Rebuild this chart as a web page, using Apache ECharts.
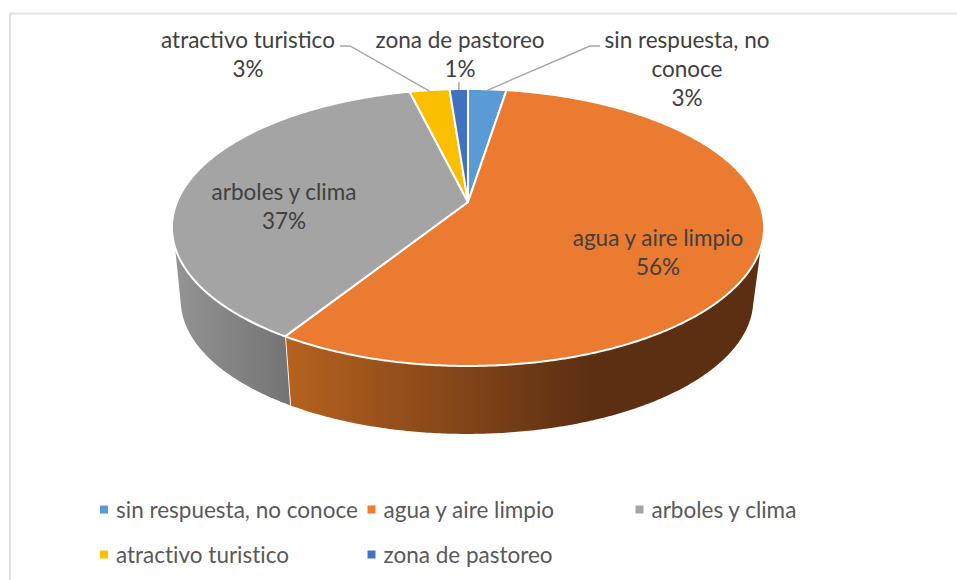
<!DOCTYPE html>
<html>
<head>
<meta charset="utf-8">
<style>html,body{margin:0;padding:0;background:#fff}#c{width:957px;height:580px}#c text{font-variant-ligatures:none}</style>
<script src="https://cdn.jsdelivr.net/npm/echarts@6/dist/echarts.min.js"></script>
</head>
<body>
<div id="c"></div>
<script>
// ---- data ----
const categories = ['sin respuesta, no conoce', 'agua y aire limpio', 'arboles y clima', 'atractivo turistico', 'zona de pastoreo'];
const values = [2.5, 56.4, 37.3, 2.6, 1.2];
const labelLines = [['sin respuesta, no', 'conoce'], ['agua y aire limpio'], ['arboles y clima'], ['atractivo turistico'], ['zona de pastoreo']];
const topColors = ['#5b9bd5', '#ea7b30', '#a4a4a4', '#fcbf00', '#4371c2'];
const legendColors = ['#5b9bd5', '#ed7d31', '#a5a5a5', '#ffc000', '#4472c4'];

// ---- layout (presentation only) ----
const apex = [468, 202], A = 291, B = 133.8, P = 0.184;
const depthShift = [-1, 72.5], depthScale = 0.967, ellipseCY = 228;
const VIS_START = 108.8, VIS_END = 251.2, LOW_START = 102.8, LOW_END = 257.2;
const FONT = 'Lato';
const FONT_SIZE = 22.5;
const labelPos = [[687, 39], [658, 237], [284, 191], [248, 39], [460, 39]];
const leaderElbow = [[[600, 46], [590, 46]], null, null, [[340, 46], [350, 46]], [[459, 82]]];
const sideGrad = {
  1: {x: 288, x2: 590, stops: ['#b5621f', '#5c2f13']},
  2: {x: 180, x2: 288, stops: ['#929292', '#747474']}
};

function rim(deg) {
  const t = deg * Math.PI / 180, X = Math.sin(t), Y = Math.cos(t), w = 1 + P * Y;
  return [apex[0] + A * X / w, apex[1] - B * Y / w];
}
function rimLow(deg) {
  const p = rim(deg);
  return [apex[0] + (p[0] - apex[0]) * depthScale + depthShift[0],
          ellipseCY + (p[1] - ellipseCY) * depthScale + depthShift[1]];
}
function arc(fn, a, b) {
  const n = Math.max(2, Math.ceil(Math.abs(b - a) * 2)), out = [];
  for (let i = 0; i <= n; i++) out.push(fn(a + (b - a) * i / n));
  return out;
}

const total = values.reduce((s, v) => s + v, 0);
let acc = 0;
const spans = values.map(v => { const a = acc / total * 360; acc += v; return [a, acc / total * 360]; });

function renderSlice(idx) {
  return function () {
    const [a, b] = spans[idx], children = [];
    const sa = Math.max(a, VIS_START), sb = Math.min(b, VIS_END);
    if (sb > sa) {
      const g = sideGrad[idx];
      const la = a <= VIS_START ? LOW_START : sa, lb = b >= VIS_END ? LOW_END : sb;
      const side = arc(rim, sa, sb).concat(arc(rimLow, lb, la));
      children.push({
        type: 'polygon', shape: {points: side},
        style: {
          fill: {type: 'linear', x: g.x, y: 0, x2: g.x2, y2: 0, global: true,
                 colorStops: [{offset: 0, color: g.stops[0]}, {offset: 1, color: g.stops[1]}]},
          stroke: null
        }
      });
      if (b < VIS_END) {
        children.push({
          type: 'line',
          shape: {x1: rim(b)[0], y1: rim(b)[1], x2: rimLow(b)[0], y2: rimLow(b)[1]},
          style: {stroke: '#ffffff', lineWidth: 1.8}
        });
      }
    }
    children.push({
      type: 'polygon', shape: {points: [apex].concat(arc(rim, a, b))},
      style: {fill: topColors[idx], stroke: '#ffffff', lineWidth: 2, lineJoin: 'round'}
    });
    // leader
    const elbow = leaderElbow[idx];
    if (elbow) {
      const m = rim((a + b) / 2);
      const pts = elbow.concat([[m[0], m[1] + 1]]);
      children.push({type: 'polyline', shape: {points: pts},
        style: {stroke: '#a6a6a6', lineWidth: 1.4, fill: null}, z2: 5});
    }
    // text
    const lines = labelLines[idx].concat([Math.round(values[idx] / total * 100) + '%']);
    lines.forEach((t, i) => {
      children.push({type: 'text', z2: 6, style: {
        text: t, x: labelPos[idx][0], y: labelPos[idx][1] + i * 29,
        align: 'center', verticalAlign: 'middle',
        font: FONT_SIZE + 'px ' + FONT, fill: '#404040'
      }});
    });
    return {type: 'group', children};
  };
}

const legendAt = [[100, 498], [367.5, 498], [635.5, 498], [100, 543], [367.5, 543]];

const option = {
  animation: false,
  backgroundColor: '#ffffff',
  legend: categories.map((c, i) => ({
    data: [c], left: legendAt[i][0], top: legendAt[i][1],
    icon: 'rect', itemWidth: 8, itemHeight: 8, itemGap: 0,
    padding: 0, selectedMode: false,
    textStyle: {color: '#595959', fontFamily: FONT, fontSize: FONT_SIZE, padding: [0, 0, 0, 3]}
  })),
  graphic: [
    {type: 'line', silent: true, shape: {x1: 10, y1: 13.5, x2: 957, y2: 13.5}, style: {stroke: '#e2e2e2', lineWidth: 2}},
    {type: 'line', silent: true, shape: {x1: 10, y1: 13, x2: 10, y2: 580}, style: {stroke: '#e2e2e2', lineWidth: 2}}
  ],
  series: categories.map((c, i) => ({
    type: 'custom', name: c, coordinateSystem: 'none', silent: true,
    itemStyle: {color: legendColors[i]},
    data: [values[i]],
    renderItem: renderSlice(i)
  }))
};
echarts.init(document.getElementById('c'), null, {renderer: 'svg'}).setOption(option);
</script>
</body>
</html>
